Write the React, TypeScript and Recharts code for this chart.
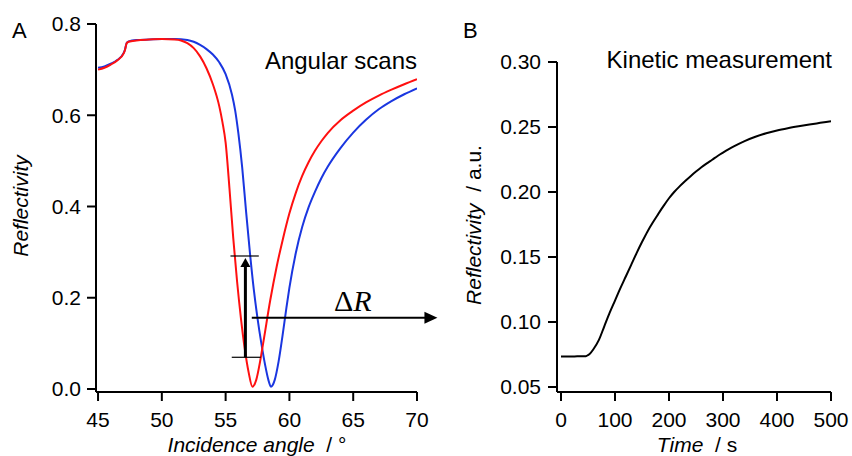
import React from 'react';
import { LineChart, Line, XAxis, YAxis, ReferenceLine } from 'recharts';

// ---- Panel A: angular scans ----
const redAngles = [45, 45.5, 46, 46.5, 47, 47.1, 47.25, 47.4, 48, 49, 50, 51, 51.5, 52, 52.5, 53, 53.5, 54, 54.5, 54.75, 55, 55.3, 55.6, 55.9, 56.2, 56.5, 56.8, 57.1, 57.4, 57.7, 58, 58.5, 59, 59.5, 60, 60.5, 61, 61.5, 62, 62.5, 63, 64, 65, 66, 67, 68, 69, 70];
const redReflectivity = [0.700, 0.704, 0.711, 0.72, 0.735, 0.742, 0.758, 0.761, 0.764, 0.766, 0.767, 0.766, 0.764, 0.758, 0.747, 0.729, 0.703, 0.668, 0.62, 0.585, 0.54, 0.44, 0.33, 0.235, 0.155, 0.088, 0.037, 0.005, 0.02, 0.06, 0.11, 0.195, 0.268, 0.33, 0.385, 0.43, 0.467, 0.497, 0.522, 0.543, 0.561, 0.589, 0.61, 0.628, 0.643, 0.656, 0.668, 0.679];

const blueAngles = [45, 45.5, 46, 46.5, 47, 47.1, 47.25, 47.4, 48, 49, 50, 51, 52, 52.5, 53, 53.5, 54, 54.5, 55, 55.5, 55.75, 56, 56.3, 56.6, 56.9, 57.2, 57.5, 57.8, 58.1, 58.35, 58.55, 58.85, 59.15, 59.45, 59.75, 60, 60.5, 61, 61.5, 62, 62.5, 63, 64, 65, 66, 67, 68, 69, 70];
const blueReflectivity = [0.704, 0.707, 0.713, 0.721, 0.736, 0.743, 0.759, 0.762, 0.765, 0.766, 0.767, 0.767, 0.765, 0.761, 0.754, 0.745, 0.733, 0.716, 0.69, 0.645, 0.61, 0.56, 0.485, 0.39, 0.30, 0.22, 0.155, 0.10, 0.052, 0.02, 0.005, 0.02, 0.06, 0.115, 0.175, 0.222, 0.298, 0.355, 0.398, 0.432, 0.462, 0.487, 0.528, 0.562, 0.59, 0.613, 0.631, 0.646, 0.659];

const angleTicks = [45, 50, 55, 60, 65, 70];
const angleDomain = [44.84, 70];
const reflTicks = [0, 0.2, 0.4, 0.6, 0.8];
const reflDomain = [-0.0066, 0.8];

// annotation values (data units)
const barAnglesHigh = [55.38, 57.6];
const barAnglesLow = [55.48, 57.75];
const barHighLevel = 0.2915;
const barLowLevel = 0.0695;
const deltaArrowAngle = 56.55;
const deltaArrowTip = 0.287;
const shiftArrowLevel = 0.156;
const shiftArrowAngles = [57.05, 71.6];

// ---- Panel B: kinetic measurement ----
const timeValues = [0, 10, 20, 30, 40, 46, 50, 55, 60, 70, 80, 90, 100, 110, 120, 130, 140, 150, 160, 170, 180, 190, 200, 210, 220, 230, 240, 250, 260, 270, 280, 290, 300, 310, 320, 340, 360, 380, 400, 420, 440, 460, 480, 500];
const kineticReflectivity = [0.0735, 0.0735, 0.0735, 0.0736, 0.0736, 0.0737, 0.0745, 0.0763, 0.079, 0.086, 0.0965, 0.107, 0.1165, 0.126, 0.135, 0.144, 0.153, 0.1615, 0.1695, 0.1765, 0.183, 0.1893, 0.1952, 0.2002, 0.2045, 0.2085, 0.2122, 0.2157, 0.219, 0.222, 0.2248, 0.2277, 0.2303, 0.2328, 0.2351, 0.2392, 0.2425, 0.2452, 0.2473, 0.249, 0.2505, 0.2519, 0.2532, 0.2545];
const timeTicks = [0, 100, 200, 300, 400, 500];
const timeDomain = [-7.4, 500];
const kineticTicks = [0.05, 0.10, 0.15, 0.20, 0.25, 0.30];
const kineticDomain = [0.04615, 0.30];

const redData = redAngles.map((x, i) => ({ x, y: redReflectivity[i] }));
const blueData = blueAngles.map((x, i) => ({ x, y: blueReflectivity[i] }));
const kineticData = timeValues.map((x, i) => ({ x, y: kineticReflectivity[i] }));

const FONT = '"Liberation Sans", Arial, sans-serif';
const tickStyle = { fill: '#000', fontSize: 21, fontFamily: FONT };
const axisLineStyle = { stroke: '#000', strokeWidth: 2 };

const makeArrow = (head: number, width: number, sw: number) => (p: any) => {
  const { x1, y1, x2, y2 } = p;
  const dx = x2 - x1;
  const dy = y2 - y1;
  const len = Math.hypot(dx, dy) || 1;
  const ux = dx / len;
  const uy = dy / len;
  const bx = x2 - ux * head;
  const by = y2 - uy * head;
  const px = (-uy * width) / 2;
  const py = (ux * width) / 2;
  return (
    <g>
      <line x1={x1} y1={y1} x2={bx + ux} y2={by + uy} stroke="#000" strokeWidth={sw} />
      <polygon points={`${x2},${y2} ${bx + px},${by + py} ${bx - px},${by - py}`} fill="#000" />
    </g>
  );
};

export default function App() {
  return (
    <div style={{ position: 'absolute', left: 0, top: 0, width: 852, height: 456, background: '#fff', overflow: 'hidden' }}>
      <div style={{ position: 'absolute', left: 0, top: 0 }}>
        <LineChart width={440} height={456} margin={{ top: 24, right: 23, bottom: 0, left: 0 }}>
          <XAxis
            type="number"
            dataKey="x"
            domain={angleDomain}
            ticks={angleTicks}
            allowDataOverflow
            height={64}
            tick={tickStyle}
            tickSize={9}
            tickMargin={11}
            axisLine={axisLineStyle}
            tickLine={axisLineStyle}
          />
          <YAxis
            type="number"
            domain={reflDomain}
            ticks={reflTicks}
            allowDataOverflow
            width={96}
            tick={tickStyle}
            tickSize={9}
            tickMargin={6}
            tickFormatter={(v: number) => v.toFixed(1)}
            axisLine={axisLineStyle}
            tickLine={axisLineStyle}
          />
          <Line data={blueData} dataKey="y" type="monotone" stroke="#1a36e0" strokeWidth={2} dot={false} isAnimationActive={false} />
          <Line data={redData} dataKey="y" type="monotone" stroke="#ff1010" strokeWidth={2} dot={false} isAnimationActive={false} />
          <ReferenceLine
            segment={[{ x: barAnglesHigh[0], y: barHighLevel }, { x: barAnglesHigh[1], y: barHighLevel }]}
            stroke="#000"
            strokeWidth={1.2}
            ifOverflow="visible"
          />
          <ReferenceLine
            segment={[{ x: barAnglesLow[0], y: barLowLevel }, { x: barAnglesLow[1], y: barLowLevel }]}
            stroke="#000"
            strokeWidth={1.2}
            ifOverflow="visible"
          />
          <ReferenceLine
            segment={[{ x: deltaArrowAngle, y: barLowLevel }, { x: deltaArrowAngle, y: deltaArrowTip }]}
            ifOverflow="visible"
            shape={makeArrow(9, 10, 3)}
          />
          <ReferenceLine
            segment={[{ x: shiftArrowAngles[0], y: shiftArrowLevel }, { x: shiftArrowAngles[1], y: shiftArrowLevel }]}
            ifOverflow="visible"
            shape={makeArrow(13, 12, 2)}
          />
        </LineChart>
      </div>
      <div style={{ position: 'absolute', left: 440, top: 0 }}>
        <LineChart width={412} height={456} data={kineticData} margin={{ top: 62, right: 21, bottom: 0, left: 0 }}>
          <XAxis
            type="number"
            dataKey="x"
            domain={timeDomain}
            ticks={timeTicks}
            allowDataOverflow
            height={64}
            tick={tickStyle}
            tickSize={9}
            tickMargin={11}
            axisLine={axisLineStyle}
            tickLine={axisLineStyle}
          />
          <YAxis
            type="number"
            domain={kineticDomain}
            ticks={kineticTicks}
            allowDataOverflow
            width={117}
            tick={tickStyle}
            tickSize={9}
            tickMargin={7}
            tickFormatter={(v: number) => v.toFixed(2)}
            axisLine={axisLineStyle}
            tickLine={axisLineStyle}
          />
          <Line dataKey="y" type="monotone" stroke="#000" strokeWidth={2} dot={false} isAnimationActive={false} />
        </LineChart>
      </div>
      <svg width={852} height={456} style={{ position: 'absolute', left: 0, top: 0, pointerEvents: 'none' }}>
        <g fontFamily={FONT} fill="#000">
          <text x={12} y={38} fontSize={22}>A</text>
          <text x={463} y={38} fontSize={22}>B</text>
          <text x={417} y={69} fontSize={24} textAnchor="end">Angular scans</text>
          <text x={832} y={68} fontSize={24} textAnchor="end">Kinetic measurement</text>
          <text transform="translate(28,206) rotate(-90)" fontSize={21} textAnchor="middle" fontStyle="italic">Reflectivity</text>
          <text transform="translate(481,225) rotate(-90)" fontSize={21} textAnchor="middle" style={{ whiteSpace: 'pre' }}>
            <tspan fontStyle="italic">Reflectivity</tspan>
            <tspan>{'  / a.u.'}</tspan>
          </text>
          <text x={257} y={452} fontSize={21} textAnchor="middle" style={{ whiteSpace: 'pre' }}>
            <tspan fontStyle="italic">Incidence angle</tspan>
            <tspan>{'  / °'}</tspan>
          </text>
          <text x={697} y={452} fontSize={21} textAnchor="middle" style={{ whiteSpace: 'pre' }}>
            <tspan fontStyle="italic">Time</tspan>
            <tspan>{'  / s'}</tspan>
          </text>
          <text x={334} y={311} fontSize={30} fontFamily='"Liberation Serif", "Times New Roman", serif'>
            <tspan>Δ</tspan>
            <tspan fontStyle="italic">R</tspan>
          </text>
        </g>
      </svg>
    </div>
  );
}
